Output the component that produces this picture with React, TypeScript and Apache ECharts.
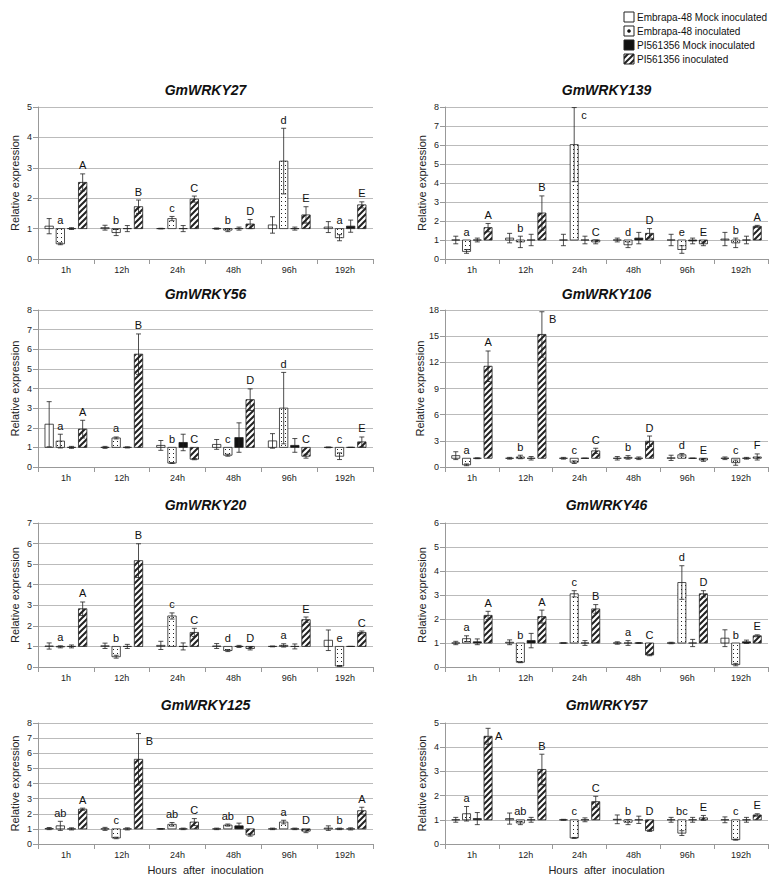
import * as echarts from "echarts";
import { useEffect, useRef } from "react";

const TIMES = ["1h", "12h", "24h", "48h", "96h", "192h"];
const SERIES_NAMES = [
  "Embrapa-48 Mock inoculated",
  "Embrapa-48 inoculated",
  "PI561356 Mock inoculated",
  "PI561356 inoculated",
];

// per time point: [Embrapa mock, Embrapa inoc, PI mock, PI inoc]
const WRKY27_MEAN = [[1.08, 0.5, 1.0, 2.52], [1.03, 0.87, 1.0, 1.72], [1.0, 1.33, 1.0, 1.97], [1.0, 0.95, 1.0, 1.15], [1.12, 3.22, 1.0, 1.45], [1.05, 0.7, 1.08, 1.78]];
const WRKY27_ERR = [[0.25, 0.03, 0.03, 0.28], [0.08, 0.1, 0.1, 0.22], [0.01, 0.07, 0.1, 0.1], [0.02, 0.05, 0.05, 0.15], [0.27, 1.08, 0.05, 0.27], [0.18, 0.1, 0.2, 0.1]];
const WRKY27_LET = [["a", "A"], ["b", "B"], ["c", "C"], ["b", "D"], ["d", "E"], ["a", "E"]];

const WRKY139_MEAN = [[1.0, 0.4, 1.0, 1.65], [1.1, 0.9, 1.0, 2.42], [1.0, 6.02, 1.0, 0.9], [1.0, 0.75, 1.1, 1.35], [1.0, 0.5, 0.95, 0.8], [1.05, 0.85, 1.0, 1.72]];
const WRKY139_ERR = [[0.2, 0.1, 0.1, 0.22], [0.25, 0.3, 0.3, 0.9], [0.3, 1.95, 0.2, 0.1], [0.1, 0.15, 0.3, 0.25], [0.3, 0.2, 0.15, 0.1], [0.35, 0.25, 0.2, 0.05]];
const WRKY139_LET = [["a", "A"], ["b", "B"], ["c", "C"], ["d", "D"], ["e", "E"], ["b", "A"]];

const WRKY56_MEAN = [[2.18, 1.32, 1.0, 1.93], [1.0, 1.48, 1.0, 5.75], [1.1, 0.2, 1.25, 0.4], [1.15, 0.6, 1.5, 3.43], [1.33, 3.0, 1.1, 0.55], [1.0, 0.55, 1.0, 1.28]];
const WRKY56_ERR = [[1.15, 0.35, 0.05, 0.45], [0.05, 0.05, 0.03, 1.03], [0.25, 0.02, 0.42, 0.03], [0.25, 0.05, 0.75, 0.55], [0.37, 1.82, 0.35, 0.1], [0.02, 0.17, 0.0, 0.25]];
const WRKY56_LET = [["a", "A"], ["a", "B"], ["b", "C"], ["c", "D"], ["d", "C"], ["c", "E"]];

const WRKY106_MEAN = [[1.3, 0.25, 1.0, 11.55], [1.0, 1.15, 1.0, 15.2], [1.0, 0.55, 1.0, 1.85], [1.0, 1.1, 1.0, 2.95], [1.05, 1.4, 1.0, 0.8], [1.0, 0.5, 1.0, 1.15]];
const WRKY106_ERR = [[0.45, 0.1, 0.05, 1.75], [0.1, 0.2, 0.2, 2.6], [0.1, 0.15, 0.0, 0.3], [0.2, 0.2, 0.15, 0.6], [0.3, 0.15, 0.0, 0.15], [0.15, 0.3, 0.1, 0.35]];
const WRKY106_LET = [["a", "A"], ["b", "B"], ["c", "C"], ["b", "D"], ["d", "E"], ["c", "F"]];

const WRKY20_MEAN = [[1.02, 0.98, 1.0, 2.83], [1.03, 0.5, 1.0, 5.17], [1.05, 2.48, 1.0, 1.68], [1.02, 0.8, 1.0, 0.9], [1.0, 1.05, 1.0, 2.3], [1.3, 0.05, 1.0, 1.68]];
const WRKY20_ERR = [[0.15, 0.05, 0.07, 0.33], [0.13, 0.07, 0.1, 0.82], [0.2, 0.15, 0.17, 0.2], [0.12, 0.05, 0.05, 0.07], [0.02, 0.08, 0.12, 0.13], [0.5, 0.02, 0.0, 0.07]];
const WRKY20_LET = [["a", "A"], ["b", "B"], ["c", "C"], ["d", "D"], ["a", "E"], ["e", "C"]];

const WRKY46_MEAN = [[1.0, 1.18, 1.05, 2.15], [1.03, 0.2, 1.1, 2.1], [1.0, 3.05, 1.0, 2.42], [1.0, 1.0, 1.0, 0.5], [1.0, 3.52, 1.0, 3.05], [1.2, 0.1, 1.05, 1.3]];
const WRKY46_ERR = [[0.07, 0.12, 0.12, 0.17], [0.1, 0.02, 0.3, 0.27], [0.0, 0.13, 0.1, 0.18], [0.05, 0.1, 0.02, 0.03], [0.03, 0.7, 0.15, 0.13], [0.35, 0.05, 0.07, 0.04]];
const WRKY46_LET = [["a", "A"], ["b", "A"], ["c", "B"], ["a", "C"], ["d", "D"], ["b", "E"]];

const WRKY125_MEAN = [[1.02, 1.2, 1.0, 2.3], [1.0, 0.4, 1.0, 5.6], [1.0, 1.3, 1.0, 1.45], [1.0, 1.25, 1.2, 0.6], [1.0, 1.45, 1.0, 0.85], [1.05, 1.0, 1.0, 2.2]];
const WRKY125_ERR = [[0.07, 0.3, 0.07, 0.07], [0.1, 0.05, 0.07, 1.7], [0.02, 0.12, 0.05, 0.23], [0.05, 0.07, 0.18, 0.08], [0.05, 0.12, 0.05, 0.1], [0.15, 0.05, 0.07, 0.23]];
const WRKY125_LET = [["ab", "A"], ["c", "B"], ["ab", "C"], ["ab", "D"], ["a", "D"], ["b", "A"]];

const WRKY57_MEAN = [[1.0, 1.25, 1.05, 4.45], [1.05, 0.87, 1.0, 3.08], [1.0, 0.25, 1.0, 1.75], [1.02, 0.9, 1.0, 0.55], [1.0, 0.45, 1.0, 1.08], [1.0, 0.18, 1.0, 1.2]];
const WRKY57_ERR = [[0.1, 0.3, 0.25, 0.33], [0.23, 0.07, 0.1, 0.63], [0.02, 0.02, 0.08, 0.22], [0.18, 0.1, 0.15, 0.03], [0.1, 0.1, 0.1, 0.1], [0.12, 0.02, 0.1, 0.05]];
const WRKY57_LET = [["a", "A"], ["ab", "B"], ["c", "C"], ["b", "D"], ["bc", "E"], ["c", "E"]];

const GENE_NAMES = ["GmWRKY27", "GmWRKY139", "GmWRKY56", "GmWRKY106", "GmWRKY20", "GmWRKY46", "GmWRKY125", "GmWRKY57"];
const GENE_MEANS = [WRKY27_MEAN, WRKY139_MEAN, WRKY56_MEAN, WRKY106_MEAN, WRKY20_MEAN, WRKY46_MEAN, WRKY125_MEAN, WRKY57_MEAN];
const GENE_ERRS = [WRKY27_ERR, WRKY139_ERR, WRKY56_ERR, WRKY106_ERR, WRKY20_ERR, WRKY46_ERR, WRKY125_ERR, WRKY57_ERR];
const GENE_LETTERS = [WRKY27_LET, WRKY139_LET, WRKY56_LET, WRKY106_LET, WRKY20_LET, WRKY46_LET, WRKY125_LET, WRKY57_LET];
const Y_MAX = [5, 8, 8, 18, 7, 6, 8, 5];
const Y_STEP = [1, 1, 1, 3, 1, 1, 1, 1];

// layout
const ROWS = [
  { top: 99, height: 152, title: 82 },
  { top: 302, height: 157, title: 286 },
  { top: 515, height: 144, title: 497 },
  { top: 715, height: 139, title: 697 },
];
const COLS = [
  { left: 30, width: 335 },
  { left: 437, width: 323 },
];
const FONT = "'Liberation Sans', Arial, sans-serif";

function makePattern(kind: string) {
  const c = document.createElement("canvas");
  const s = kind === "dots" ? 4 : 6;
  c.width = s;
  c.height = s;
  const g = c.getContext("2d")!;
  g.fillStyle = "#fff";
  g.fillRect(0, 0, s, s);
  g.fillStyle = "#222";
  if (kind === "dots") {
    g.fillRect(1, 1, 1, 1);
  } else {
    g.strokeStyle = "#222";
    g.lineWidth = 2;
    g.beginPath();
    g.moveTo(-1, s + 1);
    g.lineTo(s + 1, -1);
    g.moveTo(-1, 1);
    g.lineTo(1, -1);
    g.moveTo(s - 1, s + 1);
    g.lineTo(s + 1, s - 1);
    g.stroke();
  }
  return { image: c, repeat: "repeat" } as any;
}

const App = () => {
  const ref = useRef<HTMLDivElement>(null);

  useEffect(() => {
    const chart = echarts.init(ref.current, null, { renderer: "svg" });
    const fills: any[] = ["#fff", makePattern("dots"), "#111", makePattern("hatch")];

    const grids: any[] = [];
    const xAxes: any[] = [];
    const yAxes: any[] = [];
    const series: any[] = [];
    const graphics: any[] = [];

    GENE_NAMES.forEach((gene, gi) => {
      const row = ROWS[Math.floor(gi / 2)];
      const col = COLS[gi % 2];
      grids.push({ left: col.left, top: row.top, width: col.width, height: row.height });
      xAxes.push({
        type: "category",
        gridIndex: gi,
        data: TIMES,
        axisTick: { show: true, lineStyle: { color: "#999" } },
        axisLine: { lineStyle: { color: "#999" } },
        axisLabel: { fontSize: 9, color: "#222", fontFamily: FONT, margin: 6 },
        name: gi >= 6 ? "Hours  after  inoculation" : "",
        nameLocation: "middle",
        nameGap: 20,
        nameTextStyle: { fontSize: 11, color: "#222", fontFamily: FONT },
      });
      yAxes.push({
        type: "value",
        gridIndex: gi,
        min: 0,
        max: Y_MAX[gi],
        interval: Y_STEP[gi],
        axisLine: { show: true, lineStyle: { color: "#999" } },
        axisTick: { show: true, lineStyle: { color: "#999" } },
        splitLine: { lineStyle: { color: "#bbb", width: 1 } },
        axisLabel: { fontSize: 9, color: "#222", fontFamily: FONT, margin: 6 },
        name: "Relative expression",
        nameLocation: "middle",
        nameGap: 18,
        nameTextStyle: { fontSize: 11, color: "#222", fontFamily: FONT },
      });
      graphics.push({
        type: "text",
        x: col.left + col.width / 2,
        y: row.title,
        style: {
          text: gene,
          font: `italic bold 14px ${FONT}`,
          fill: "#111",
          textAlign: "center",
          textVerticalAlign: "middle",
        },
      });

      for (let si = 0; si < 4; si++) {
        const data = TIMES.map((_, ti) => [ti, GENE_MEANS[gi][ti][si], GENE_ERRS[gi][ti][si]]);
        series.push({
          type: "custom",
          name: SERIES_NAMES[si],
          xAxisIndex: gi,
          yAxisIndex: gi,
          data,
          renderItem: (params: any, api: any) => {
            const idx = api.value(0);
            const v = api.value(1);
            const e = api.value(2);
            const band = api.size([1, 0])[0];
            const bw = band * 0.15;
            const cx = api.coord([idx, 1])[0] + (si - 1.5) * band * 0.2;
            const yBase = api.coord([idx, 1])[1];
            const yVal = api.coord([idx, v])[1];
            const yHi = api.coord([idx, v + e])[1];
            const yLo = api.coord([idx, Math.max(v - e, 0)])[1];
            const cap = 2.5;
            const children: any[] = [
              {
                type: "rect",
                shape: { x: cx - bw / 2, y: Math.min(yBase, yVal), width: bw, height: Math.abs(yBase - yVal) },
                style: { fill: fills[si], stroke: "#222", lineWidth: 0.8 },
              },
              { type: "line", shape: { x1: cx, y1: yHi, x2: cx, y2: yLo }, style: { stroke: "#222", lineWidth: 0.8 } },
              { type: "line", shape: { x1: cx - cap, y1: yHi, x2: cx + cap, y2: yHi }, style: { stroke: "#222", lineWidth: 0.8 } },
              { type: "line", shape: { x1: cx - cap, y1: yLo, x2: cx + cap, y2: yLo }, style: { stroke: "#222", lineWidth: 0.8 } },
            ];
            if (si === 1 || si === 3) {
              const letter = GENE_LETTERS[gi][params.dataIndex][si === 1 ? 0 : 1];
              const yTop = Math.min(yHi, yBase);
              const gridTop = api.coord([idx, Y_MAX[gi]])[1];
              const beside = yTop - 16 < gridTop;
              children.push({
                type: "text",
                x: beside ? cx + bw / 2 + 3 : cx,
                y: beside ? yTop + 2 : yTop - 3,
                style: {
                  text: letter,
                  font: `11px ${FONT}`,
                  fill: "#111",
                  textAlign: beside ? "left" : "center",
                  textVerticalAlign: beside ? "top" : "bottom",
                },
              });
            }
            return { type: "group", children };
          },
        });
      }
    });

    // legend box
    SERIES_NAMES.forEach((name, si) => {
      const y = 4 + si * 14;
      graphics.push({
        type: "rect",
        shape: { x: 616, y, width: 10, height: 10 },
        style: { fill: si === 1 ? "#fff" : fills[si], stroke: "#222", lineWidth: 1 },
      });
      if (si === 1) {
        graphics.push({ type: "circle", shape: { cx: 621, cy: y + 5, r: 1.8 }, style: { fill: "#111" } });
      }
      graphics.push({
        type: "text",
        x: 629,
        y: y + 5,
        style: { text: name, font: `10px ${FONT}`, fill: "#111", textVerticalAlign: "middle" },
      });
    });

    chart.setOption({
      animation: false,
      backgroundColor: "#fff",
      grid: grids,
      xAxis: xAxes,
      yAxis: yAxes,
      series,
      graphic: graphics,
    });

    const handleResize = () => chart.resize();
    window.addEventListener("resize", handleResize);
    return () => {
      window.removeEventListener("resize", handleResize);
      chart.dispose();
    };
  }, []);

  return <div ref={ref} style={{ width: "762px", height: "868px" }} />;
};

export default App;
